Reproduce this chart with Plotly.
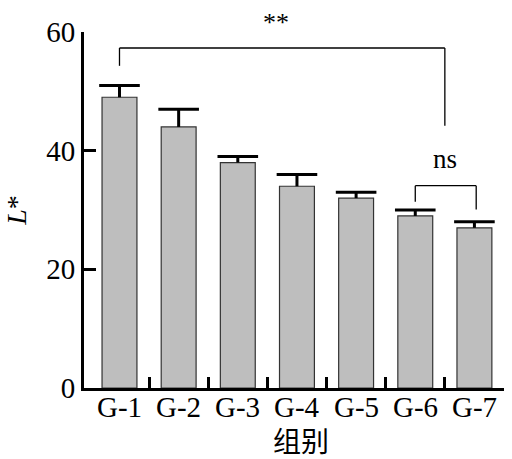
import plotly.graph_objects as go

groups = ["G-1", "G-2", "G-3", "G-4", "G-5", "G-6", "G-7"]
l_values = [49, 44, 38, 34, 32, 29, 27]
l_errors = [2, 3, 1, 2, 1, 1, 1]
y_ticks = [0, 20, 40, 60]

serif = "Liberation Serif, Times New Roman, serif"
x_range = [-0.6, 6.5]

fig = go.Figure()
fig.add_trace(go.Bar(
    x=groups, y=l_values, width=0.59,
    marker=dict(color="#bebebe", line=dict(color="#333333", width=1.2)),
    hoverinfo="x+y",
))

# upper-only error bars: stem from bar top + cap at mean+err
ex, ey = [], []
for g, v, e in zip(groups, l_values, l_errors):
    ex += [g, g, None]
    ey += [v, v + e, None]
fig.add_trace(go.Scatter(x=ex, y=ey, mode="lines", line=dict(color="black", width=3),
                         hoverinfo="skip"))
fig.add_trace(go.Scatter(x=groups, y=[v + e for v, e in zip(l_values, l_errors)],
                         mode="markers",
                         marker=dict(symbol="line-ew", size=29, line=dict(color="black", width=3)),
                         hoverinfo="skip"))

line = dict(color="black", width=1.3)
# ** bracket G-1 to middle of G-6/G-7
fig.add_shape(type="line", xref="x", yref="y", x0=0.0, x1=0.0, y0=54.3, y1=57.3, line=line)
fig.add_shape(type="line", xref="x", yref="y", x0=0.0, x1=5.5, y0=57.3, y1=57.3, line=line)
fig.add_shape(type="line", xref="x", yref="y", x0=5.5, x1=5.5, y0=57.3, y1=44.2, line=line)
# ns bracket G-6 to G-7
fig.add_shape(type="line", xref="x", yref="y", x0=5.0, x1=5.0, y0=31.4, y1=34.1, line=line)
fig.add_shape(type="line", xref="x", yref="y", x0=5.0, x1=6.03, y0=34.1, y1=34.1, line=line)
fig.add_shape(type="line", xref="x", yref="y", x0=6.03, x1=6.03, y0=34.1, y1=30.1, line=line)

fig.add_annotation(x=2.65, y=1.028, xref="x", yref="paper", yanchor="middle", text="**",
                   showarrow=False, font=dict(family=serif, size=26, color="black"))
fig.add_annotation(x=5.5, y=38.6, xref="x", yref="y", text="ns", showarrow=False,
                   font=dict(family=serif, size=27, color="black"))

# category labels and x title
for i, g in enumerate(groups):
    fig.add_annotation(x=i, y=-0.052, xref="x", yref="paper", yanchor="middle", text=g,
                       showarrow=False, font=dict(family=serif, size=29, color="black"))
fig.add_annotation(x=3.07, y=-0.146, xref="x", yref="paper", yanchor="middle", text="组别",
                   showarrow=False, font=dict(family="Noto Sans CJK SC", size=28, color="black"))

fig.update_layout(
    width=512, height=459,
    margin=dict(l=84, r=8, t=32, b=71),
    plot_bgcolor="white", paper_bgcolor="white",
    showlegend=False,
    xaxis=dict(
        type="category", range=x_range,
        showline=True, linecolor="black", linewidth=3,
        ticks="", showticklabels=False,
        showgrid=False, zeroline=False,
    ),
    xaxis2=dict(
        overlaying="x", anchor="y", side="bottom", range=x_range, type="linear",
        tickvals=[0.5, 1.5, 2.5, 3.5, 4.5, 5.5, 6.5], showticklabels=False,
        ticks="inside", ticklen=11, tickwidth=3, tickcolor="black",
        showgrid=False, zeroline=False, showline=False,
    ),
    yaxis=dict(
        range=[0, 60], tickvals=y_ticks,
        showline=True, linecolor="black", linewidth=3,
        ticks="inside", ticklen=12, tickwidth=3, tickcolor="black",
        tickfont=dict(family=serif, size=29, color="black"),
        showgrid=False, zeroline=False,
        title=dict(text="<i>L</i>*", font=dict(family=serif, size=28, color="black"), standoff=12),
    ),
)
# invisible trace to activate the tick-only axis
fig.add_trace(go.Scatter(x=[0.5], y=[0], xaxis="x2", yaxis="y", mode="markers",
                         marker=dict(opacity=0), hoverinfo="skip"))

fig.write_html("out.html")
